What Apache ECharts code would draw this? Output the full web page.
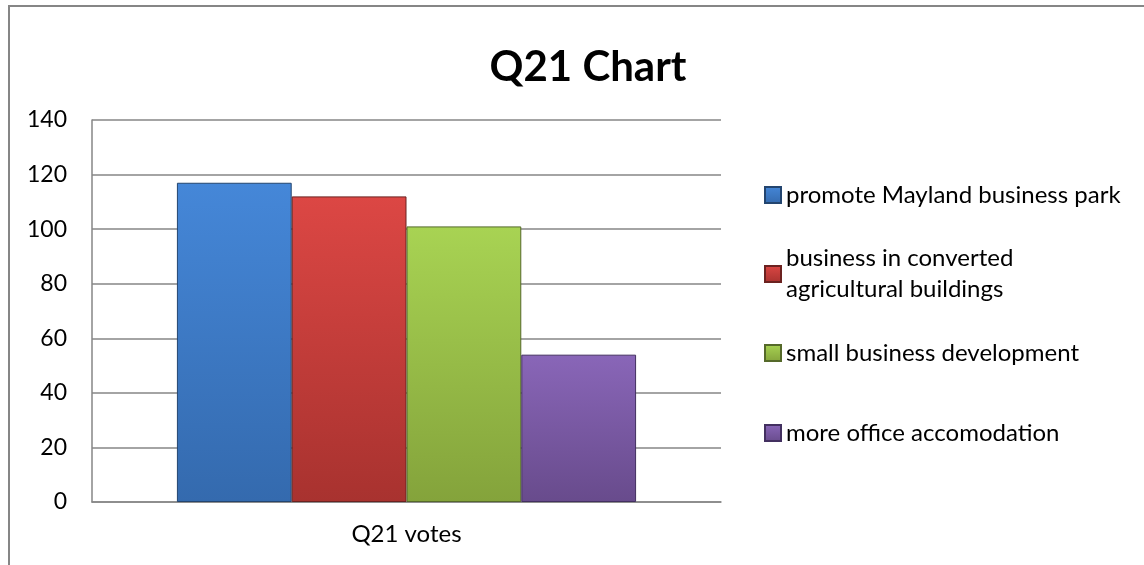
<!DOCTYPE html>
<html><head><meta charset="utf-8">
<script src="https://cdn.jsdelivr.net/npm/echarts@6/dist/echarts.min.js"></script>
<style>html,body{margin:0;padding:0;background:#fff}#c{width:1144px;height:565px}</style>
</head><body><div id="c"></div>
<script>
const categories = ['Q21 votes'];
const seriesNames = ['promote Mayland business park', 'business in converted\nagricultural buildings', 'small business development', 'more office accomodation'];
const seriesValues = [[117], [112], [101], [54]];
const yTicks = [0, 20, 40, 60, 80, 100, 120, 140];

const topColors = ['#4587D8', '#DC4744', '#A8D353', '#8966B8'];
const botColors = ['#346AAE', '#A8322F', '#84A33B', '#684B8C'];
const edgeColors = ['#23456F', '#6B2220', '#55692A', '#433060'];
const legendCenters = [195, 274, 353, 433];
const FONT = 'Lato';
const LH = 31;

const chart = echarts.init(document.getElementById('c'), null, {renderer: 'canvas'});
const series = seriesNames.map((n, i) => ({
  name: n, type: 'bar', data: seriesValues[i],
  barGap: '0%', barCategoryGap: '27%',
  itemStyle: {
    color: new echarts.graphic.LinearGradient(0, 0, 0, 1, [
      {offset: 0, color: topColors[i]}, {offset: 1, color: botColors[i]}]),
    borderColor: edgeColors[i], borderWidth: 1
  },
  emphasis: {disabled: true}
}));
const legends = seriesNames.map((n, i) => {
  const lines = n.split('\n').length;
  const extra = (lines - 1) * LH;
  const boxH = extra + lines * LH;
  return {
    data: [{name: n, icon: 'rect'}], left: 764, top: legendCenters[i] - boxH / 2,
    orient: 'vertical', padding: 0,
    itemWidth: 16, itemHeight: 16, itemGap: 5,
    textStyle: {fontFamily: FONT, fontSize: 24, color: '#000', lineHeight: LH,
      padding: [extra, 0, 0, 0]},
    selectedMode: false
  };
});
chart.setOption({
  animation: false,
  title: {text: 'Q21 Chart', left: 583, top: 62, textAlign: 'center', textVerticalAlign: 'middle',
    textStyle: {fontFamily: FONT, fontWeight: 'bold', fontSize: 42, color: '#000'}},
  legend: legends,
  grid: {left: 92, right: 423, top: 120, bottom: 63, containLabel: false},
  xAxis: {type: 'category', data: categories,
    axisLine: {lineStyle: {color: '#868686', width: 1.5}}, axisTick: {show: false},
    axisLabel: {fontFamily: FONT, fontSize: 24, color: '#000', margin: 20}},
  yAxis: {type: 'value', min: yTicks[0], max: yTicks[yTicks.length - 1], interval: 20,
    axisLine: {show: true, lineStyle: {color: '#868686', width: 1.5}}, axisTick: {show: false},
    splitLine: {lineStyle: {color: '#868686', width: 1.5}},
    axisLabel: {fontFamily: FONT, fontSize: 23, color: '#000', margin: 25}},
  series: series,
  graphic: [{type: 'rect', shape: {x: 9, y: 6, width: 1300, height: 800},
    style: {fill: null, stroke: '#868686', lineWidth: 2}, silent: true}]
});
</script></body></html>
